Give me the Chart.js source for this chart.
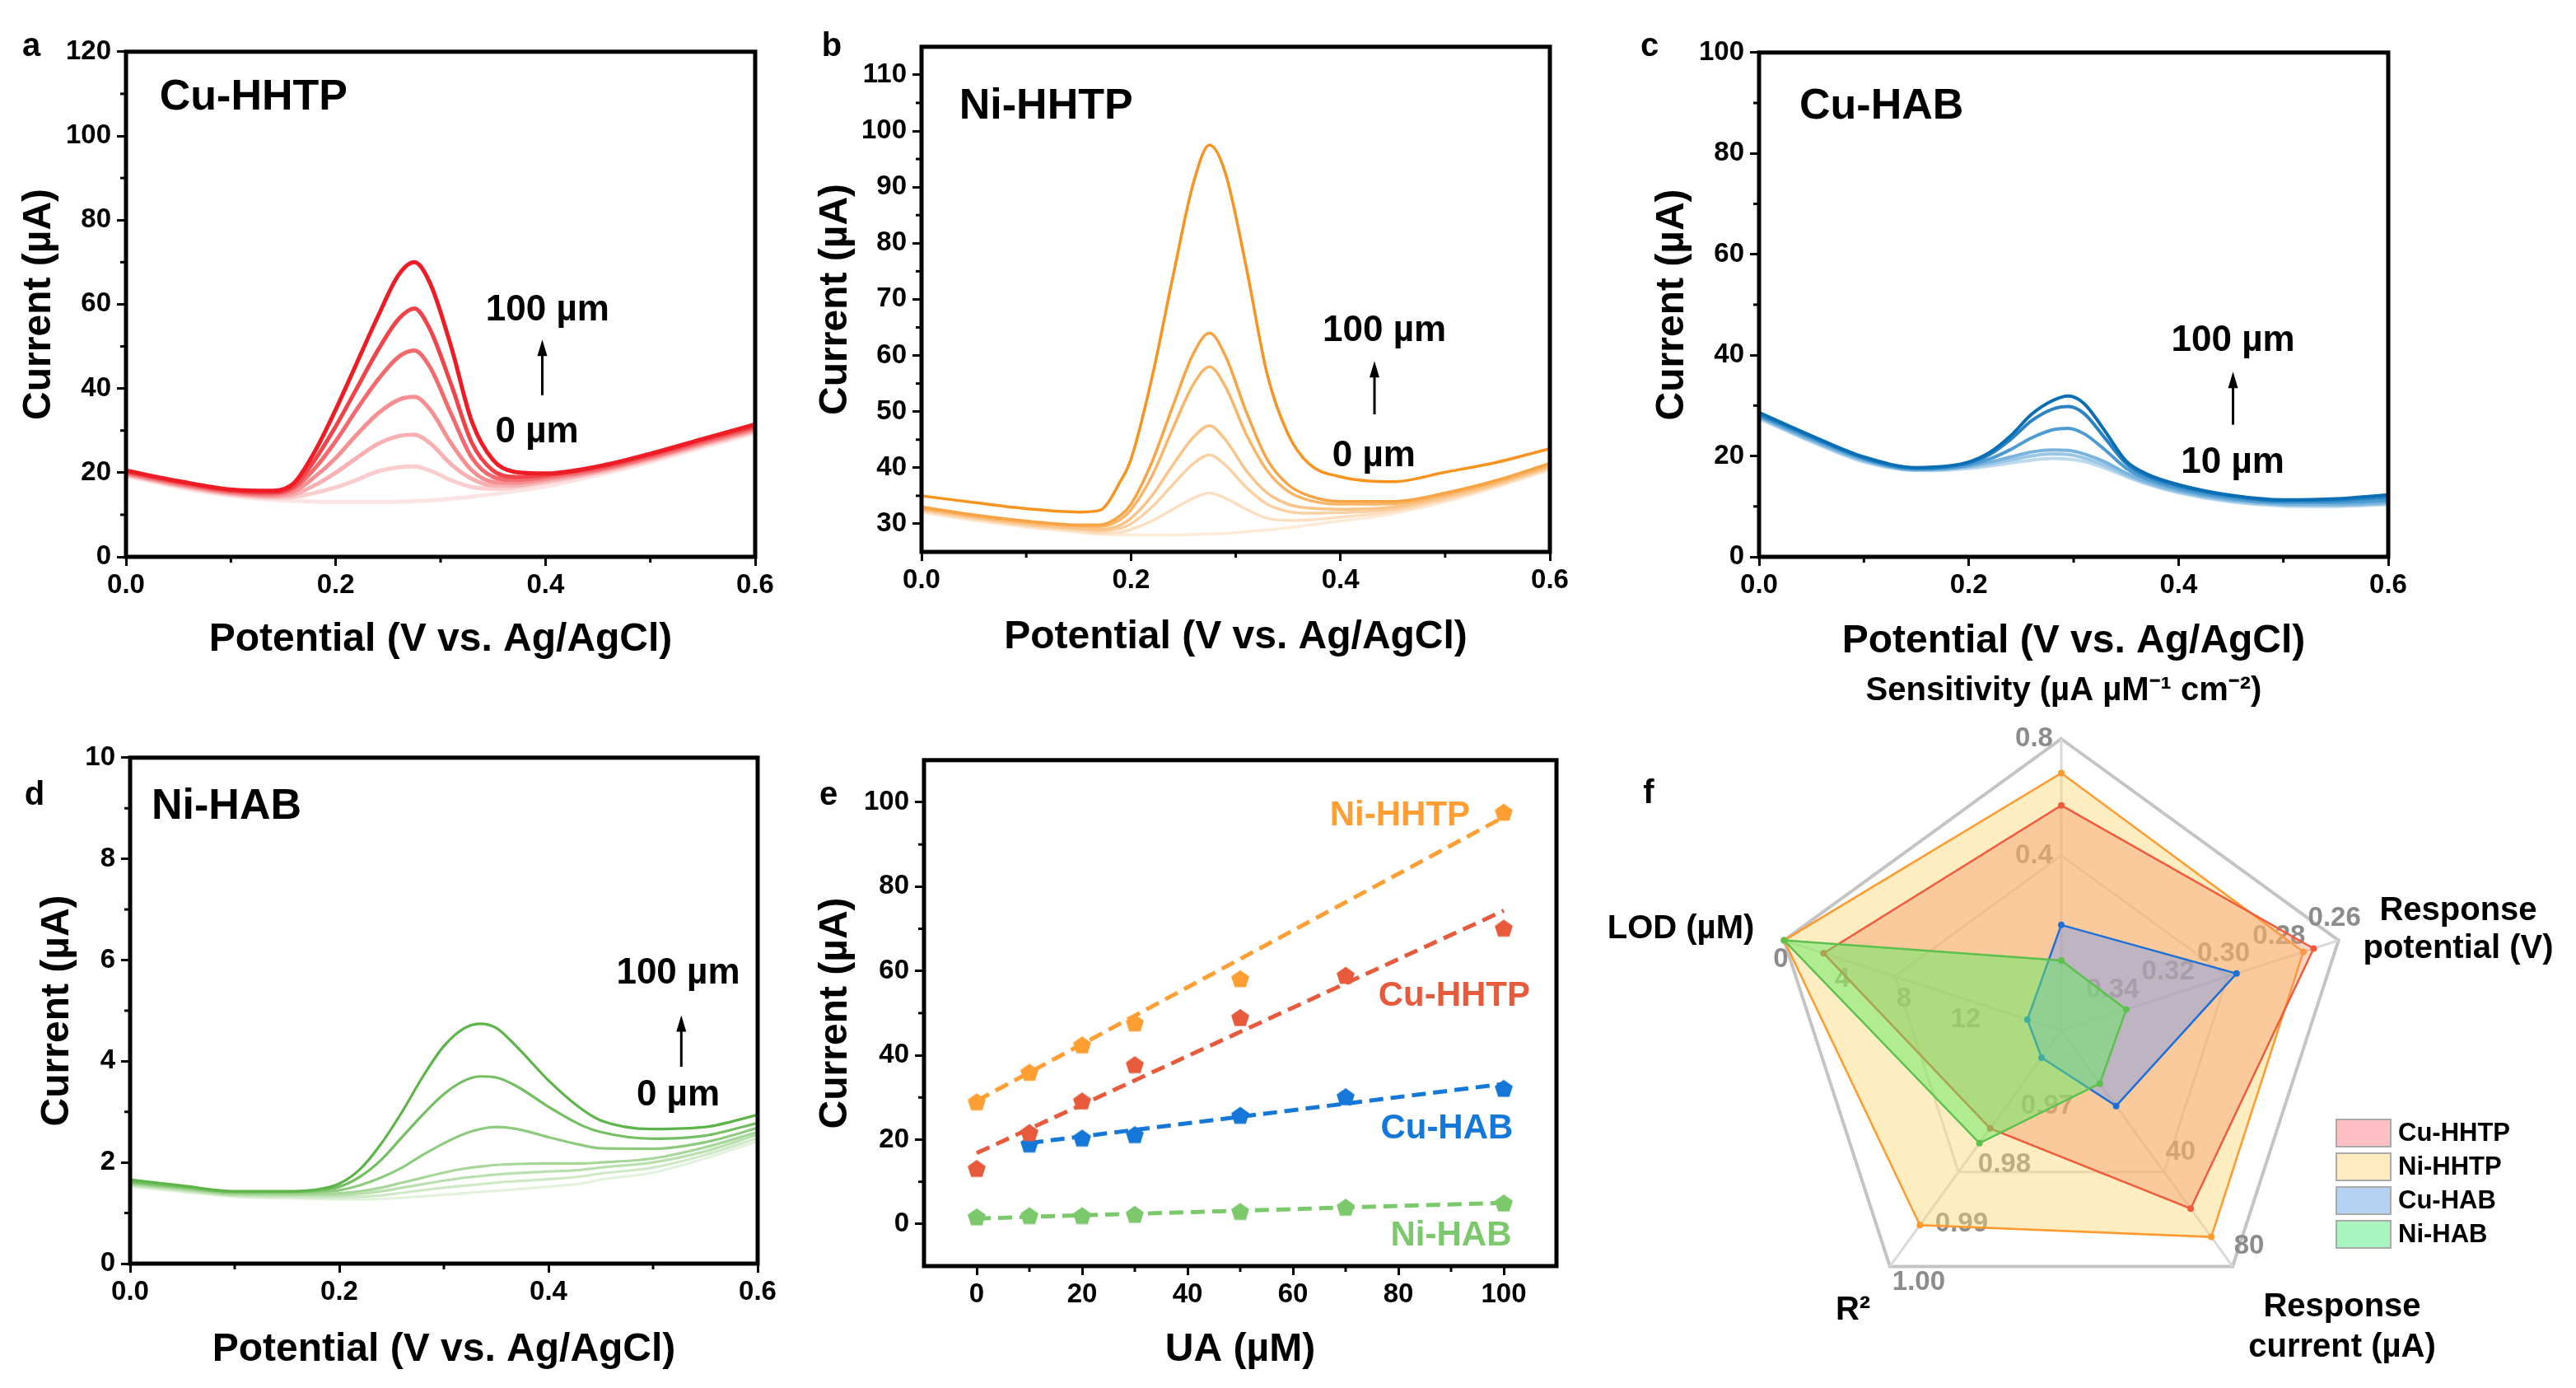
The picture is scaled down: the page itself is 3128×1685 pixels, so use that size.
<!DOCTYPE html>
<html>
<head>
<meta charset="utf-8">
<script src="https://cdn.jsdelivr.net/npm/chart.js@4.4.1/dist/chart.umd.min.js"></script>
<style>
  html, body { margin: 0; padding: 0; background: #fff; }
  #page { position: relative; width: 3128px; height: 1685px; overflow: hidden; background: #fff;
          font-family: 'Liberation Sans', Arial, sans-serif; }
  canvas { position: absolute; }
  .tag { position: absolute; font-weight: bold; font-size: 40px; line-height: 40px; color: #000;
         transform: translateX(-50%); }
</style>
</head>
<body>
<div id="page">
  <canvas id="cvA"></canvas>
  <canvas id="cvB"></canvas>
  <canvas id="cvC"></canvas>
  <canvas id="cvD"></canvas>
  <canvas id="cvE"></canvas>
  <canvas id="cvF"></canvas>
  <div class="tag" style="left:38px;top:34px">a</div>
  <div class="tag" style="left:1010px;top:34px">b</div>
  <div class="tag" style="left:2003px;top:34px">c</div>
  <div class="tag" style="left:42px;top:943px">d</div>
  <div class="tag" style="left:1006px;top:943px">e</div>
  <div class="tag" style="left:2002px;top:941px">f</div>
</div>
<script>
// ---------- data: DPV curves (potential in V, current in µA) ----------
const potA = [0, 0.05, 0.1, 0.14, 0.16, 0.18, 0.2, 0.22, 0.24, 0.26, 0.275, 0.29, 0.31, 0.33, 0.35, 0.37, 0.4, 0.45, 0.5, 0.55, 0.6];
const curCuHHTP = [
  [20.5, 18, 16, 15.7, 17.5, 25, 35, 46, 57, 67, 70, 65, 50, 32, 23, 20.2, 19.8, 21.5, 24.5, 28, 31.5],
  [20.3, 17.8, 15.8, 15.3, 16.8, 23, 31, 40, 49, 56.5, 59, 54, 41, 27, 20.5, 19, 19.4, 21.2, 24.2, 27.7, 31],
  [20, 17.5, 15.5, 15, 16.3, 21, 27.5, 35, 42, 47.5, 49, 45, 34, 23.5, 19, 18.3, 19, 20.8, 23.8, 27.3, 30.7],
  [19.8, 17.2, 15.2, 14.6, 15.5, 19, 23.5, 29, 34, 37.3, 38, 35, 27, 20.5, 17.8, 17.6, 18.5, 20.5, 23.5, 27, 30.3],
  [19.6, 17, 15, 14.3, 14.8, 17, 20, 23.5, 26.8, 28.7, 29, 27, 22, 18.5, 17, 17, 18, 20.2, 23.2, 26.7, 30],
  [19.4, 16.8, 14.8, 14, 14.2, 15.2, 16.5, 18.3, 20.3, 21.3, 21.5, 20.5, 18.2, 16.6, 16.2, 16.5, 17.6, 19.9, 22.9, 26.4, 29.7],
  [19.2, 16.5, 14.5, 13.6, 13.3, 13.1, 13, 13, 13, 13.1, 13.2, 13.4, 13.8, 14.3, 14.9, 15.6, 16.7, 19.4, 22.5, 26, 29.3]
];
const potB = [0, 0.05, 0.1, 0.15, 0.17, 0.19, 0.2, 0.22, 0.24, 0.26, 0.275, 0.29, 0.31, 0.33, 0.35, 0.37, 0.4, 0.45, 0.5, 0.55, 0.6];
const curNiHHTP = [
  [35, 33.8, 32.7, 32.1, 32.4, 37.6, 41.5, 56, 74, 91, 97.5, 92.6, 75.8, 56.7, 46, 40.7, 38.4, 37.5, 39.2, 41, 43.4],
  [33, 31.6, 30.5, 29.8, 29.8, 31.5, 33.5, 41, 51, 60.5, 64, 60, 50, 41.5, 37, 35, 34, 34, 35.5, 37.8, 40.8],
  [32.8, 31.4, 30.3, 29.6, 29.5, 30.8, 32.5, 38.5, 47, 55, 58, 54.5, 46, 39.5, 35.8, 34.2, 33.5, 33.6, 35.2, 37.5, 40.5],
  [32.6, 31.2, 30, 29.2, 29, 29.8, 31, 35, 40.5, 45.5, 47.5, 45, 39.5, 35.5, 33.5, 32.8, 32.6, 33, 34.8, 37.2, 40.2],
  [32.4, 31, 29.8, 29, 28.7, 29.2, 30, 33, 37, 40.8, 42.3, 40.5, 36.5, 33.5, 32.2, 31.9, 32, 32.6, 34.5, 37, 40],
  [32.2, 30.8, 29.6, 28.7, 28.3, 28.5, 29, 30.5, 32.6, 34.6, 35.5, 34.6, 32.6, 31, 30.6, 30.7, 31.2, 32.2, 34.2, 36.8, 39.8],
  [32, 30.6, 29.4, 28.5, 28.2, 28, 28, 28, 28, 28.1, 28.2, 28.3, 28.6, 28.9, 29.3, 29.8, 30.5, 31.8, 33.9, 36.6, 39.6]
];
const potC = [0, 0.05, 0.1, 0.15, 0.18, 0.2, 0.22, 0.24, 0.26, 0.28, 0.295, 0.31, 0.33, 0.35, 0.37, 0.4, 0.45, 0.5, 0.55, 0.6];
const curCuHAB = [
  [28.6, 24, 19.8, 17.7, 18, 18.8, 20.7, 24, 28.3, 31, 31.9, 30.4, 24.9, 19, 16.4, 14.3, 12.2, 11.3, 11.5, 12.3],
  [28.3, 23.8, 19.6, 17.6, 17.9, 18.6, 20.3, 23.3, 27, 29.3, 29.8, 28.4, 23.5, 18.5, 16, 14, 12, 11.1, 11.2, 11.8],
  [28, 23.5, 19.4, 17.4, 17.6, 18.2, 19.4, 21.3, 23.6, 25.2, 25.5, 24.4, 21.2, 17.6, 15.4, 13.5, 11.6, 10.8, 10.8, 11.2],
  [27.8, 23.2, 19.2, 17.3, 17.5, 18, 18.8, 19.8, 20.8, 21.2, 21.1, 20.4, 18.8, 16.6, 14.9, 13.1, 11.3, 10.5, 10.4, 10.8],
  [27.6, 23, 19, 17.2, 17.4, 17.8, 18.4, 19.2, 20, 20.4, 20.3, 19.6, 18.1, 16.2, 14.6, 12.9, 11.1, 10.3, 10.2, 10.6],
  [27.4, 22.8, 18.8, 17.1, 17.2, 17.5, 18, 18.6, 19.2, 19.5, 19.4, 18.9, 17.6, 15.9, 14.4, 12.7, 10.9, 10.1, 10, 10.4]
];
const potD = [0, 0.05, 0.1, 0.15, 0.18, 0.2, 0.22, 0.24, 0.26, 0.28, 0.3, 0.32, 0.335, 0.35, 0.37, 0.4, 0.43, 0.45, 0.5, 0.55, 0.6];
const curNiHAB = [
  [1.66, 1.54, 1.43, 1.43, 1.47, 1.58, 1.87, 2.37, 3.0, 3.7, 4.3, 4.66, 4.74, 4.66, 4.28, 3.62, 3.08, 2.83, 2.66, 2.7, 2.94],
  [1.62, 1.52, 1.42, 1.42, 1.45, 1.52, 1.72, 2.05, 2.5, 2.95, 3.35, 3.62, 3.7, 3.68, 3.5, 3.1, 2.75, 2.6, 2.47, 2.53, 2.78],
  [1.6, 1.5, 1.4, 1.4, 1.42, 1.45, 1.55, 1.7, 1.9, 2.15, 2.38, 2.57, 2.66, 2.7, 2.66, 2.5, 2.35, 2.28, 2.27, 2.4, 2.68],
  [1.58, 1.48, 1.38, 1.37, 1.38, 1.39, 1.43, 1.5, 1.6, 1.7, 1.8, 1.88, 1.92, 1.95, 1.97, 1.98, 1.98, 2.0, 2.08, 2.3, 2.6],
  [1.56, 1.46, 1.36, 1.35, 1.35, 1.35, 1.38, 1.43, 1.5, 1.57, 1.64, 1.7, 1.73, 1.76, 1.79, 1.82, 1.85, 1.9, 2.0, 2.22, 2.55],
  [1.54, 1.44, 1.34, 1.32, 1.31, 1.31, 1.32, 1.35, 1.4, 1.45, 1.5, 1.54, 1.57, 1.6, 1.63, 1.67, 1.72, 1.78, 1.9, 2.15, 2.48],
  [1.52, 1.42, 1.32, 1.29, 1.28, 1.27, 1.27, 1.28, 1.3, 1.33, 1.36, 1.39, 1.42, 1.44, 1.47, 1.52, 1.58, 1.66, 1.8, 2.08, 2.42]
];

// ---------- data: calibration (panel e) ----------
const materials = ['Cu-HHTP', 'Ni-HHTP', 'Cu-HAB', 'Ni-HAB'];
const uaCuHHTP = [0, 10, 20, 30, 50, 70, 100];
const iCuHHTP  = [13.2, 21.7, 29.2, 37.8, 49, 59, 70.2];
const uaNiHHTP = [0, 10, 20, 30, 50, 100];
const iNiHHTP  = [29, 36, 42.5, 47.7, 58.2, 97.7];
const uaCuHAB  = [10, 20, 30, 50, 70, 100];
const iCuHAB   = [19, 20.4, 21.2, 25.8, 30.2, 32.2];
const uaNiHAB  = [0, 10, 20, 30, 50, 70, 100];
const iNiHAB   = [1.7, 2.0, 2.0, 2.3, 3.0, 4.0, 5.0];
const fitXCuHHTP = [0, 100],  fitYCuHHTP = [16.8, 74.3];
const fitXNiHHTP = [0, 100],  fitYNiHHTP = [29.2, 96.5];
const fitXCuHAB  = [10, 100], fitYCuHAB  = [19.2, 33.2];
const fitXNiHAB  = [0, 100],  fitYNiHAB  = [1.3, 5.0];

// ---------- data: radar (panel f) ----------
const radarAxes  = ['Sensitivity (µA µM⁻¹ cm⁻²)', 'Response potential (V)', 'Response current (µA)', 'R²', 'LOD (µM)'];
const radarMin   = [-0.2, 0.36, -20, 0.96, 18];
const radarMax   = [0.8, 0.26, 80, 1.00, 0];
const radarTicks = [[0.4, 0.8], [0.34, 0.32, 0.30, 0.28, 0.26], [40, 80], [0.97, 0.98, 0.99, 1.00], [0, 4, 8, 12]];
const radarCuHHTP = [0.572, 0.269, 55.5, 0.9766, 2.57];
const radarNiHHTP = [0.683, 0.2727, 67.5, 0.993, 0];
const radarCuHAB  = [0.162, 0.2968, 12, 0.9646, 15.8];
const radarNiHAB  = [0.04, 0.3366, 2.5, 0.9791, 0];

// ---------- styling ----------
const FONT = "'Liberation Sans', Arial, sans-serif";
const bold = size => ({ family: FONT, size, weight: 'bold' });
Chart.defaults.font.family = FONT;

const redShades    = ['#EE1C25', '#F0444B', '#F26A6E', '#F58F92', '#F8B0B2', '#FACDCE', '#FCE4E5'];
const orangeShades = ['#F7931E', '#F8A445', '#F9B466', '#FAC387', '#FBD1A3', '#FCDFC0', '#FDEBD8'];
const blueShades   = ['#0A6EB4', '#2A84C4', '#4E9BD1', '#78B4DE', '#9AC7E6', '#BCD9EE'];
const greenShades  = ['#5DB54A', '#74BF62', '#8ECB7E', '#A6D698', '#BBE0B0', '#CFE9C7', '#E2F2DD'];

// frame box + minor ticks
const minorTicks = {
  id: 'minorTicks',
  afterDraw(chart, args, o) {
    const { ctx, chartArea: a } = chart;
    const sx = chart.scales.x, sy = chart.scales.y;
    ctx.save();
    ctx.strokeStyle = '#000';
    ctx.lineWidth = 3;
    (o.x || []).forEach(v => {
      const p = sx.getPixelForValue(v);
      ctx.beginPath(); ctx.moveTo(p, a.bottom); ctx.lineTo(p, a.bottom + 7); ctx.stroke();
    });
    (o.y || []).forEach(v => {
      const p = sy.getPixelForValue(v);
      ctx.beginPath(); ctx.moveTo(a.left, p); ctx.lineTo(a.left - 7, p); ctx.stroke();
    });
    ctx.lineWidth = 5;
    ctx.strokeRect(a.left, a.top, a.right - a.left, a.bottom - a.top);
    ctx.restore();
  }
};

// text notes and arrows placed in data coordinates
const notes = {
  id: 'notes',
  afterDraw(chart, args, o) {
    const { ctx } = chart;
    const sx = chart.scales.x, sy = chart.scales.y;
    ctx.save();
    ctx.textBaseline = 'middle';
    (o.texts || []).forEach(t => {
      ctx.font = `bold ${t.size}px ${FONT}`;
      ctx.fillStyle = t.color || '#000';
      ctx.textAlign = t.align || 'center';
      ctx.fillText(t.text, sx.getPixelForValue(t.x), sy.getPixelForValue(t.y));
    });
    (o.arrows || []).forEach(ar => {
      const x = sx.getPixelForValue(ar.x);
      const y1 = sy.getPixelForValue(ar.from), y2 = sy.getPixelForValue(ar.to);
      ctx.strokeStyle = '#000'; ctx.fillStyle = '#000'; ctx.lineWidth = 3;
      ctx.beginPath(); ctx.moveTo(x, y1); ctx.lineTo(x, y2 + 12); ctx.stroke();
      ctx.beginPath(); ctx.moveTo(x, y2); ctx.lineTo(x - 6, y2 + 20); ctx.lineTo(x + 6, y2 + 20); ctx.closePath(); ctx.fill();
    });
    ctx.restore();
  }
};

function framePanel(id, area, s, datasets, noteCfg) {
  const [L, T, R, B] = area, YW = 150, XH = 170, PT = 24, PR = 30;
  const lh = 48 * 1.2;
  const cv = document.getElementById(id);
  cv.width = R - L + YW + PR;
  cv.height = B - T + PT + XH;
  cv.style.left = (L - YW) + 'px';
  cv.style.top = (T - PT) + 'px';
  const grid = { display: true, drawOnChartArea: false, drawTicks: true, tickLength: 11,
                 tickWidth: 3, tickColor: '#000', color: '#000', lineWidth: 3 };
  return new Chart(cv, {
    type: 'line',
    data: { datasets },
    options: {
      responsive: false, animation: false, devicePixelRatio: 1,
      layout: { padding: { top: PT, right: PR, left: 0, bottom: 0 } },
      plugins: { legend: { display: false }, tooltip: { enabled: false },
                 minorTicks: { x: s.xminor, y: s.yminor }, notes: noteCfg || {} },
      scales: {
        x: {
          type: 'linear', min: s.xmin, max: s.xmax,
          afterBuildTicks: sc => { sc.ticks = s.xticks.map(v => ({ value: v })); },
          afterFit: sc => { sc.height = XH; },
          ticks: { font: bold(33), color: '#000', padding: 4, maxRotation: 0, autoSkip: false, callback: s.xfmt },
          grid, border: { display: false },
          title: { display: true, text: s.xtitle, font: bold(48), color: '#000',
                   padding: { top: 0, bottom: B + XH - s.xTitleY - lh / 2 } }
        },
        y: {
          type: 'linear', min: s.ymin, max: s.ymax,
          afterBuildTicks: sc => { sc.ticks = s.yticks.map(v => ({ value: v })); },
          afterFit: sc => { sc.width = YW; },
          ticks: { font: bold(33), color: '#000', padding: 7, autoSkip: false, callback: v => String(v) },
          grid, border: { display: false },
          title: { display: true, text: 'Current (µA)', font: bold(48), color: '#000',
                   padding: { top: s.yTitleX - (L - YW) - lh / 2, bottom: 0 } }
        }
      }
    },
    plugins: [minorTicks, notes]
  });
}

function curveSets(xs, curves, colors, lw) {
  return curves.map((ys, i) => ({
    data: xs.map((x, j) => ({ x, y: ys[j] })),
    borderColor: colors[i], borderWidth: lw, pointRadius: 0,
    cubicInterpolationMode: 'monotone', fill: false
  }));
}

const potAxis = { xmin: 0, xmax: 0.6, xticks: [0, 0.2, 0.4, 0.6], xminor: [0.1, 0.3, 0.5],
                  xfmt: v => v.toFixed(1), xtitle: 'Potential (V vs. Ag/AgCl)' };

framePanel('cvA', [153, 60, 917, 676],
  Object.assign({}, potAxis, { xTitleY: 777, yTitleX: 48, ymin: 0, ymax: 120,
    yticks: [0, 20, 40, 60, 80, 100, 120], yminor: [10, 30, 50, 70, 90, 110] }),
  curveSets(potA, curCuHHTP, redShades, 5),
  { texts: [{ text: 'Cu-HHTP', x: 0.032, y: 109, size: 52, align: 'left' },
            { text: '100 µm', x: 0.402, y: 58.6, size: 44 },
            { text: '0 µm', x: 0.392, y: 29.6, size: 44 }],
    arrows: [{ x: 0.397, from: 38.4, to: 51.6 }] });

framePanel('cvB', [1119, 54, 1882, 670],
  Object.assign({}, potAxis, { xTitleY: 774, yTitleX: 1015, ymin: 25, ymax: 115,
    yticks: [30, 40, 50, 60, 70, 80, 90, 100, 110], yminor: [35, 45, 55, 65, 75, 85, 95, 105] }),
  curveSets(potB, curNiHHTP, orangeShades, 3.5),
  { texts: [{ text: 'Ni-HHTP', x: 0.036, y: 104.3, size: 52, align: 'left' },
            { text: '100 µm', x: 0.442, y: 64.3, size: 44 },
            { text: '0 µm', x: 0.432, y: 42.1, size: 44 }],
    arrows: [{ x: 0.4325, from: 49.5, to: 59 }] });

framePanel('cvC', [2136, 61, 2900, 676],
  Object.assign({}, potAxis, { xTitleY: 779, yTitleX: 2031, ymin: 0, ymax: 100,
    yticks: [0, 20, 40, 60, 80, 100], yminor: [10, 30, 50, 70, 90] }),
  curveSets(potC, curCuHAB, blueShades, 4),
  { texts: [{ text: 'Cu-HAB', x: 0.0385, y: 89.3, size: 52, align: 'left' },
            { text: '100 µm', x: 0.452, y: 42.9, size: 44 },
            { text: '10 µm', x: 0.4516, y: 18.7, size: 44 }],
    arrows: [{ x: 0.452, from: 26.2, to: 36.7 }] });

framePanel('cvD', [158, 917, 920, 1534],
  Object.assign({}, potAxis, { xTitleY: 1639, yTitleX: 70, ymin: 0, ymax: 10,
    yticks: [0, 2, 4, 6, 8, 10], yminor: [1, 3, 5, 7, 9] }),
  curveSets(potD, curNiHAB, greenShades, 3.2),
  { texts: [{ text: 'Ni-HAB', x: 0.0205, y: 9.03, size: 52, align: 'left' },
            { text: '100 µm', x: 0.524, y: 5.74, size: 44 },
            { text: '0 µm', x: 0.524, y: 3.32, size: 44 }],
    arrows: [{ x: 0.527, from: 3.89, to: 4.91 }] });

// ---------- panel e ----------
function pentagon(color, size) {
  const c = document.createElement('canvas');
  c.width = c.height = size;
  const g = c.getContext('2d');
  const r = size / 2 - 0.5, cy = size / 2 + r * 0.1;
  g.fillStyle = color;
  g.beginPath();
  for (let k = 0; k < 5; k++) {
    const a = -Math.PI / 2 + k * 2 * Math.PI / 5;
    g.lineTo(size / 2 + r * Math.cos(a), cy + r * Math.sin(a));
  }
  g.closePath();
  g.fill();
  return c;
}
const eColors = { 'Cu-HHTP': '#E85A3C', 'Ni-HHTP': '#FF9E33', 'Cu-HAB': '#1578D8', 'Ni-HAB': '#7CC86C' };
const eSeries = [
  ['Ni-HHTP', uaNiHHTP, iNiHHTP, fitXNiHHTP, fitYNiHHTP],
  ['Cu-HHTP', uaCuHHTP, iCuHHTP, fitXCuHHTP, fitYCuHHTP],
  ['Cu-HAB', uaCuHAB, iCuHAB, fitXCuHAB, fitYCuHAB],
  ['Ni-HAB', uaNiHAB, iNiHAB, fitXNiHAB, fitYNiHAB]
];
const eSets = [];
eSeries.forEach(([name, xs, ys]) => eSets.push({
  data: xs.map((x, j) => ({ x, y: ys[j] })), showLine: false,
  pointStyle: pentagon(eColors[name], 24), pointRadius: 12, borderColor: eColors[name], backgroundColor: eColors[name]
}));
eSeries.forEach(([name, , , fx, fy]) => eSets.push({
  data: fx.map((x, j) => ({ x, y: fy[j] })), borderColor: eColors[name], borderWidth: 5,
  borderDash: [17, 9], pointRadius: 0, fill: false
}));

framePanel('cvE', [1122, 920, 1890, 1537],
  { xmin: -10, xmax: 110, xticks: [0, 20, 40, 60, 80, 100], xminor: [10, 30, 50, 70, 90],
    xfmt: v => String(v), xtitle: 'UA (µM)', xTitleY: 1639, yTitleX: 1015,
    ymin: -10, ymax: 110, yticks: [0, 20, 40, 60, 80, 100], yminor: [10, 30, 50, 70, 90] },
  eSets,
  { texts: [{ text: 'Ni-HHTP', x: 80.3, y: 96.8, size: 42, color: eColors['Ni-HHTP'] },
            { text: 'Cu-HHTP', x: 90.6, y: 54, size: 42, color: eColors['Cu-HHTP'] },
            { text: 'Cu-HAB', x: 89.2, y: 22.5, size: 42, color: eColors['Cu-HAB'] },
            { text: 'Ni-HAB', x: 90, y: -2.8, size: 42, color: eColors['Ni-HAB'] }] });

// ---------- panel f: radar ----------
const norm = (i, v) => (v - radarMin[i]) / (radarMax[i] - radarMin[i]);
const radarFmt = [v => v.toFixed(1), v => v.toFixed(2), v => String(v), v => v.toFixed(2), v => String(v)];
const radarTickOff = [[-33, 0], [-5, -27], [20, -24], [35, 20], [-4, 23]];
const radarTitleOff = [[[3, -412]], [[482, -145], [482, -99]], [[341, 336], [341, 385]], [[-253, 340]], [[-462, -123]]];
const radarTitleLines = [[radarAxes[0]], ['Response', 'potential (V)'], ['Response', 'current (µA)'], [radarAxes[3]], [radarAxes[4]]];
const legendSwatch = ['#FFC0C5', '#FFEBC0', '#B5D2F2', '#A8F5C0'];

const FX = 1925, FY = 780;
const radarDeco = {
  id: 'radarDeco',
  beforeDatasetsDraw(chart) {
    const r = chart.scales.r, ctx = chart.ctx;
    ctx.save();
    ctx.font = `bold 33px ${FONT}`;
    ctx.fillStyle = '#8c8c8c';
    ctx.textAlign = 'center';
    ctx.textBaseline = 'middle';
    radarTicks.forEach((list, i) => list.forEach(v => {
      const p = r.getPointPosition(i, r.getDistanceFromCenterForValue(norm(i, v)));
      ctx.fillText(radarFmt[i](v), p.x + radarTickOff[i][0], p.y + radarTickOff[i][1]);
    }));
    ctx.restore();
  },
  afterDraw(chart) {
    const r = chart.scales.r, ctx = chart.ctx;
    ctx.save();
    ctx.fillStyle = '#000';
    ctx.textAlign = 'center';
    ctx.textBaseline = 'middle';
    ctx.font = `bold 40px ${FONT}`;
    radarTitleLines.forEach((lines, i) => lines.forEach((t, k) => {
      const [dx, dy] = radarTitleOff[i][k];
      ctx.fillText(t, r.xCenter + dx, r.yCenter + dy);
    }));
    // legend
    ctx.font = `bold 31px ${FONT}`;
    ctx.textAlign = 'left';
    materials.forEach((m, k) => {
      const y = 1359 - FY + k * 41;
      ctx.fillStyle = legendSwatch[k];
      ctx.fillRect(2837 - FX, y, 66, 33);
      ctx.strokeStyle = '#aaaaaa';
      ctx.lineWidth = 2;
      ctx.strokeRect(2837 - FX, y, 66, 33);
      ctx.fillStyle = '#000';
      ctx.fillText(m, 2912 - FX, y + 17);
    });
    ctx.restore();
  }
};

const radarStyle = {
  'Cu-HHTP': { line: '#F15A3A', fill: 'rgba(245,150,100,0.4)', order: 2 },
  'Ni-HHTP': { line: '#FF9A2E', fill: 'rgba(255,215,120,0.45)', order: 3 },
  'Cu-HAB':  { line: '#1C6FD6', fill: 'rgba(100,150,250,0.4)', order: 1 },
  'Ni-HAB':  { line: '#5CC04E', fill: 'rgba(100,235,100,0.5)', order: 0 }
};
const radarValues = { 'Cu-HHTP': radarCuHHTP, 'Ni-HHTP': radarNiHHTP, 'Cu-HAB': radarCuHAB, 'Ni-HAB': radarNiHAB };

const cvF = document.getElementById('cvF');
cvF.width = 3128 - FX; cvF.height = 1685 - FY;
cvF.style.left = FX + 'px'; cvF.style.top = FY + 'px';
new Chart(cvF, {
  type: 'radar',
  data: {
    labels: radarAxes,
    datasets: materials.map(m => ({
      label: m,
      data: radarValues[m].map((v, i) => norm(i, v)),
      borderColor: radarStyle[m].line, backgroundColor: radarStyle[m].fill,
      borderWidth: 2.5, pointRadius: 4, pointBorderWidth: 0,
      pointBackgroundColor: radarStyle[m].line, fill: true, order: radarStyle[m].order
    }))
  },
  options: {
    responsive: false, animation: false, devicePixelRatio: 1,
    layout: { padding: { left: 2149 - FX, right: 3128 - 2857, top: 897 - FY, bottom: 1685 - 1605 } },
    plugins: { legend: { display: false }, tooltip: { enabled: false } },
    scales: {
      r: {
        min: 0, max: 1,
        afterBuildTicks: sc => { sc.ticks = [0, 0.6, 1].map(v => ({ value: v })); },
        ticks: { display: false },
        pointLabels: { display: false },
        grid: { color: c => (c.tick && c.tick.value === 1 ? '#c4c4c4' : '#d9d9d9'),
                lineWidth: c => (c.tick && c.tick.value === 1 ? 4 : 3) },
        angleLines: { color: '#d9d9d9', lineWidth: 3 }
      }
    }
  },
  plugins: [radarDeco]
});
</script>
</body>
</html>
